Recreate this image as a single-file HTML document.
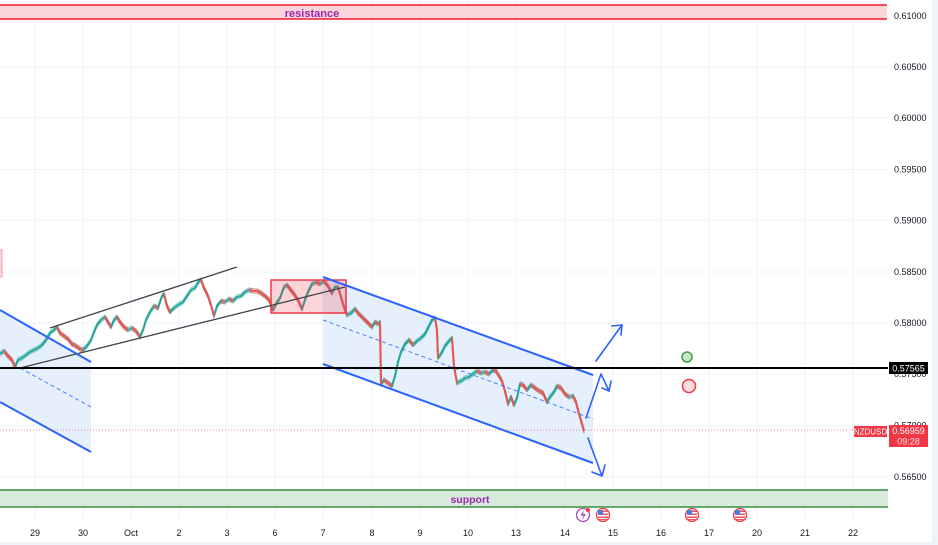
<!DOCTYPE html>
<html><head><meta charset="utf-8"><style>
html,body{margin:0;padding:0;background:#fff;}
svg{display:block;font-family:"Liberation Sans",sans-serif;}
</style></head><body>
<svg width="938" height="545" viewBox="0 0 938 545" xmlns="http://www.w3.org/2000/svg">
<defs>
<polyline id="pg" points="0,354 4,351 8,356 12,360 15,367 18,360 22,358 26,355 30,352 34,350 38,348 42,345 46,340 50,333 54,330 57,327 60,333 64,336 68,339 72,344 76,346 80,349 83,350 87,346 91,340 94,332 97,325 101,320 105,317 108,322 111,327 114,320 117,317 120,322 124,327 128,330 132,328 136,331 140,337 143,330 146,320 150,312 154,306 158,308 162,296 164,294 167,306 170,312 174,308 178,305 183,302 187,296 191,290 195,288 199,281 201,280 204,288 208,296 211,305 214,316 217,306 221,301 225,302 229,299 233,301 237,297 241,296 245,292 249,290 253,291 257,291 261,293 265,296 269,300 273,310 276,304 280,298 284,287 287,285 290,289 294,294 298,300 302,309 305,300 308,292 312,284 316,282 320,284 324,281 328,286 332,293 335,287 338,287 341,297 344,307 347,315 351,313 355,309 358,313 362,317 366,321 369,324 372,327 375,322 378,324 380,322 381,384 384,380 388,383 392,386 395,376 398,362 401,352 405,344 409,340 413,345 417,341 421,338 425,334 429,326 432,320 435,318 437,330 438,358 441,354 445,346 449,341 452,338 454,366 457,383 461,381 465,378 469,377 473,374 477,371 481,373 485,372 489,374 493,370 496,371 499,376 502,381 505,391 508,404 511,397 514,405 517,398 520,384 523,385 527,390 531,385 535,388 539,391 543,393 547,402 550,397 554,392 557,386 561,388 565,394 569,397 573,396 576,402 578,410 580,417 582,424 584,431"/>
<path id="pr" d="M4,351 L8,356 L12,360 L15,367 M57,327 L60,333 L64,336 L68,339 L72,344 L76,346 L80,349 L83,350 M105,317 L108,322 L111,327 M117,317 L120,322 L124,327 L128,330 M132,328 L136,331 L140,337 M154,306 L158,308 M164,294 L167,306 L170,312 M201,280 L204,288 L208,296 L211,305 L214,316 M221,301 L225,302 M229,299 L233,301 M249,290 L253,291 L257,291 L261,293 L265,296 L269,300 L273,310 M287,285 L290,289 L294,294 L298,300 L302,309 M316,282 L320,284 M324,281 L328,286 L332,293 M338,287 L341,297 L344,307 L347,315 M355,309 L358,313 L362,317 L366,321 L369,324 L372,327 M375,322 L378,324 M380,322 L381,384 M384,380 L388,383 L392,386 M409,340 L413,345 M435,318 L437,330 L438,358 M452,338 L454,366 L457,383 M477,371 L481,373 M485,372 L489,374 M493,370 L496,371 L499,376 L502,381 L505,391 L508,404 M511,397 L514,405 M520,384 L523,385 L527,390 M531,385 L535,388 L539,391 L543,393 L547,402 M557,386 L561,388 L565,394 L569,397 M573,396 L576,402 L578,410 L580,417 L582,424 L584,431"/>
</defs>
<rect width="938" height="545" fill="#fff"/>
<!-- grid -->
<g stroke="#f0f3fa" stroke-width="1">
<line x1="35" y1="0" x2="35" y2="520"/><line x1="83" y1="0" x2="83" y2="520"/><line x1="131" y1="0" x2="131" y2="520"/><line x1="179" y1="0" x2="179" y2="520"/><line x1="227" y1="0" x2="227" y2="520"/><line x1="275" y1="0" x2="275" y2="520"/><line x1="323" y1="0" x2="323" y2="520"/><line x1="372" y1="0" x2="372" y2="520"/><line x1="420" y1="0" x2="420" y2="520"/><line x1="468" y1="0" x2="468" y2="520"/><line x1="516" y1="0" x2="516" y2="520"/><line x1="565" y1="0" x2="565" y2="520"/><line x1="613" y1="0" x2="613" y2="520"/><line x1="661" y1="0" x2="661" y2="520"/><line x1="709" y1="0" x2="709" y2="520"/><line x1="757" y1="0" x2="757" y2="520"/><line x1="805" y1="0" x2="805" y2="520"/><line x1="853" y1="0" x2="853" y2="520"/>
<line x1="0" y1="16" x2="888" y2="16"/><line x1="0" y1="67" x2="888" y2="67"/><line x1="0" y1="118" x2="888" y2="118"/><line x1="0" y1="169.5" x2="888" y2="169.5"/><line x1="0" y1="220.5" x2="888" y2="220.5"/><line x1="0" y1="272" x2="888" y2="272"/><line x1="0" y1="323" x2="888" y2="323"/><line x1="0" y1="374" x2="888" y2="374"/><line x1="0" y1="425.5" x2="888" y2="425.5"/><line x1="0" y1="477" x2="888" y2="477"/>
</g>
<!-- resistance band -->
<rect x="0" y="5" width="887" height="14" fill="#fbd5da"/>
<line x1="0" y1="5" x2="887" y2="5" stroke="#f23645" stroke-width="1.8"/>
<line x1="0" y1="19" x2="887" y2="19" stroke="#f23645" stroke-width="1.8"/>
<text x="312" y="17" font-size="11" font-weight="bold" fill="#9c27b0" text-anchor="middle">resistance</text>
<!-- support band -->
<rect x="0" y="490" width="888" height="17" fill="#d8eadb"/>
<line x1="0" y1="490" x2="888" y2="490" stroke="#388e3c" stroke-width="1.6"/>
<line x1="0" y1="507" x2="888" y2="507" stroke="#388e3c" stroke-width="1.6"/>
<text x="470" y="503" font-size="10.5" font-weight="bold" fill="#9c27b0" text-anchor="middle">support</text>
<!-- left pink box -->
<rect x="-5" y="250" width="7" height="27" fill="#fbd5da" stroke="#f7a0a8" stroke-width="1"/>
<!-- channel fills -->
<polygon points="0,310 91,362 91,452 0,402" fill="#e6f0fd"/>
<polygon points="323,277 593,375 593,463 323,364" fill="#e6f0fd"/>
<!-- candles -->
<g fill="none" stroke-linejoin="round" stroke-linecap="butt">
<use href="#pg" stroke="#26a69a" stroke-width="1" opacity="0.6" transform="translate(0,-2)"/>
<use href="#pg" stroke="#26a69a" stroke-width="1" opacity="0.6" transform="translate(0,2)"/>
<use href="#pr" stroke="#ef5350" stroke-width="1" opacity="0.6" transform="translate(0,-2)"/>
<use href="#pr" stroke="#ef5350" stroke-width="1" opacity="0.6" transform="translate(0,2)"/>
<use href="#pg" stroke="#26a69a" stroke-width="2"/>
<use href="#pr" stroke="#ef5350" stroke-width="2"/>
</g>
<!-- red consolidation rect -->
<rect x="271" y="280" width="75" height="33" fill="rgba(242,54,69,0.22)" stroke="#f23645" stroke-width="1.5"/>
<!-- ascending black channel -->
<g stroke="#434651" stroke-width="1.4">
<line x1="50" y1="328" x2="237" y2="267"/>
<line x1="20" y1="368" x2="345" y2="287"/>
</g>
<!-- blue channel lines -->
<g stroke="#2962ff" fill="none">
<line x1="0" y1="310" x2="91" y2="362" stroke-width="2"/>
<line x1="0" y1="402" x2="91" y2="452" stroke-width="2"/>
<line x1="20" y1="368" x2="91" y2="407" stroke-width="1" stroke-dasharray="4,3" opacity="0.8"/>
<line x1="323" y1="277" x2="593" y2="375" stroke-width="2"/>
<line x1="323" y1="364" x2="593" y2="463" stroke-width="2"/>
<line x1="323" y1="320" x2="593" y2="419" stroke-width="1" stroke-dasharray="4,3" opacity="0.8"/>
<g stroke-width="1.6" stroke-linecap="round" stroke-linejoin="round">
<polyline points="596,361 622,325"/>
<polyline points="612,326 622,325 621,335"/>
<polyline points="586,418 601,374 609,391"/>
<polyline points="602,388 609,391 611,381"/>
<polyline points="588,438 602,476"/>
<polyline points="592,472 602,476 605,465"/>
</g>
</g>
<!-- horizontal black level -->
<line x1="0" y1="368" x2="888" y2="368" stroke="#000" stroke-width="2"/>
<!-- current price dotted -->
<line x1="0" y1="430" x2="888" y2="430" stroke="#f23645" stroke-width="1" stroke-dasharray="1,2" opacity="0.6"/>
<!-- circles -->
<circle cx="687" cy="357" r="5" fill="#c8e6c9" stroke="#43a047" stroke-width="1.5"/>
<circle cx="689" cy="386" r="6.5" fill="#fcdcdf" stroke="#f23645" stroke-width="1.5"/>
<!-- event icons -->
<g>
<circle cx="583" cy="515" r="6.5" fill="#fff" stroke="#ab47bc" stroke-width="1.3"/>
<path d="M584,510 L580.5,515.5 L583.5,515.5 L582,520 L586,514 L583,514 Z" fill="#ab47bc"/>
<circle cx="588" cy="510" r="2" fill="#f23645"/>
<circle cx="603" cy="515" r="6.5" fill="#fff" stroke="#f23645" stroke-width="1.3"/>
<rect x="598" y="510.5" width="10" height="1.5" fill="#f7525f"/><rect x="598" y="513.5" width="10" height="1.5" fill="#f7525f"/><rect x="598" y="516.5" width="10" height="1.5" fill="#f7525f"/><rect x="599" y="519" width="8" height="1.2" fill="#f7525f"/>
<rect x="598" y="510" width="5" height="5" fill="#4a7fe0"/>
<circle cx="692" cy="515" r="6.5" fill="#fff" stroke="#f23645" stroke-width="1.3"/>
<rect x="687" y="510.5" width="10" height="1.5" fill="#f7525f"/><rect x="687" y="513.5" width="10" height="1.5" fill="#f7525f"/><rect x="687" y="516.5" width="10" height="1.5" fill="#f7525f"/><rect x="688" y="519" width="8" height="1.2" fill="#f7525f"/>
<rect x="687" y="510" width="5" height="5" fill="#4a7fe0"/>
<circle cx="740" cy="515" r="6.5" fill="#fff" stroke="#f23645" stroke-width="1.3"/>
<rect x="735" y="510.5" width="10" height="1.5" fill="#f7525f"/><rect x="735" y="513.5" width="10" height="1.5" fill="#f7525f"/><rect x="735" y="516.5" width="10" height="1.5" fill="#f7525f"/><rect x="736" y="519" width="8" height="1.2" fill="#f7525f"/>
<rect x="735" y="510" width="5" height="5" fill="#4a7fe0"/>
</g>
<!-- price axis labels -->
<g font-size="9" fill="#131722">
<text x="894" y="19">0.61000</text>
<text x="894" y="70">0.60500</text>
<text x="894" y="121">0.60000</text>
<text x="894" y="172.5">0.59500</text>
<text x="894" y="223.5">0.59000</text>
<text x="894" y="275">0.58500</text>
<text x="894" y="326">0.58000</text>
<text x="894" y="377">0.57500</text>
<text x="894" y="428.5">0.57000</text>
<text x="894" y="480">0.56500</text>
</g>
<!-- price tags -->
<rect x="889" y="362" width="39" height="12" fill="#000"/>
<text x="908.5" y="371.5" font-size="9" fill="#fff" text-anchor="middle">0.57565</text>
<rect x="854" y="426" width="33" height="11" fill="#f23645"/>
<text x="870.5" y="434.5" font-size="8" fill="#fff" text-anchor="middle">NZDUSD</text>
<rect x="889" y="425" width="39" height="22" fill="#f23645"/>
<text x="908.5" y="434" font-size="9" fill="#fff" text-anchor="middle">0.56959</text>
<text x="908.5" y="444.5" font-size="9" fill="#fde2e4" text-anchor="middle">09:28</text>
<!-- time axis labels -->
<g font-size="9" fill="#131722" text-anchor="middle">
<text x="35" y="536">29</text><text x="83" y="536">30</text><text x="131" y="536">Oct</text><text x="179" y="536">2</text><text x="227" y="536">3</text><text x="275" y="536">6</text><text x="323" y="536">7</text><text x="372" y="536">8</text><text x="420" y="536">9</text><text x="468" y="536">10</text><text x="516" y="536">13</text><text x="565" y="536">14</text><text x="613" y="536">15</text><text x="661" y="536">16</text><text x="709" y="536">17</text><text x="757" y="536">20</text><text x="805" y="536">21</text><text x="853" y="536">22</text>
</g>
<!-- frame edges -->
<rect x="932" y="0" width="6" height="545" fill="#f0f3fa"/>
<rect x="0" y="542" width="938" height="3" fill="#f0f3fa"/>
</svg>
</body></html>
